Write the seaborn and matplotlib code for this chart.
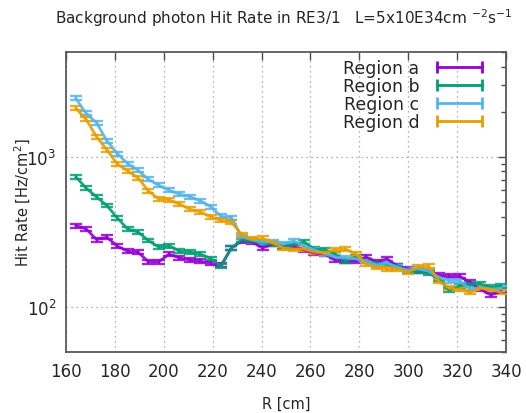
import numpy as np
import pandas as pd
import matplotlib
matplotlib.use("Agg")
import matplotlib.pyplot as plt
import seaborn as sns
from matplotlib.lines import Line2D
from matplotlib.ticker import LogLocator, NullFormatter

# ---------------- data ----------------
R_cm = [164.0, 168.2, 172.5, 176.7, 181.0, 185.2, 189.5, 193.7, 198.0, 202.2,
        206.4, 210.7, 214.9, 219.2, 223.4, 227.7, 231.9, 236.1, 240.4, 244.6,
        248.9, 253.1, 257.4, 261.6, 265.9, 270.1, 274.3, 278.6, 282.8, 287.1,
        291.3, 295.6, 299.8, 304.0, 308.3, 312.5, 316.8, 321.0, 325.3, 329.5,
        333.8, 338.0]

region_a = [348, 331, 281, 291, 254, 235, 231, 200, 200, 225, 212, 205, 202, 195,
            189, 247, 275, 271, 247, 263, 251, 251, 240, 229, 225, 205, 202, 202,
            215, 199, 209, 187, 179, 173, 171, 163, 160, 160, 146, 131, 120, 127]
region_b = [735, 620, 540, 474, 391, 331, 315, 277, 250, 256, 235, 232, 225, 210,
            186, 247, 280, 275, 267, 263, 251, 259, 271, 243, 240, 225, 202, 215,
            202, 196, 193, 187, 173, 173, 168, 153, 129, 138, 142, 142, 135, 138]
region_c = [2456, 1949, 1689, 1280, 1052, 902, 813, 708, 645, 598, 565, 542, 510,
            465, 402, 392, 293, 280, 271, 271, 263, 275, 255, 240, 225, 215, 212,
            209, 202, 190, 196, 184, 176, 179, 173, 158, 149, 149, 131, 135, 131, 133]
region_d = [2105, 1782, 1361, 1114, 895, 807, 723, 593, 522, 518, 485, 447, 430,
            398, 378, 366, 302, 282, 286, 267, 247, 243, 243, 232, 229, 240, 243,
            225, 193, 184, 179, 179, 171, 184, 187, 149, 133, 131, 125, 133, 131, 125]
rel_err = 0.03  # relative error bar half-height

labels = ["Region a", "Region b", "Region c", "Region d"]
colors = ["#9400D3", "#009E73", "#56B4E9", "#E69F00"]
title = "Background photon Hit Rate in RE3/1   L=5x10E34cm $^{-2}$s$^{-1}$"
xlabel = "R [cm]"
ylabel = "Hit Rate [Hz/cm$^2$]"
x_ticks = [160, 180, 200, 220, 240, 260, 280, 300, 320, 340]

series = [region_a, region_b, region_c, region_d]
df = pd.concat([pd.DataFrame({"R": R_cm, "rate": s, "region": lab})
                for s, lab in zip(series, labels)], ignore_index=True)

# ---------------- plot ----------------
sns.set_style("white")
plt.rcParams["font.family"] = ["DejaVu Sans"]

fig = plt.figure(figsize=(5.26, 4.14), dpi=100)
ax = fig.add_axes([66/526, 1-353/414, 440/526, 300/414])

for s, lab, c in zip(series, labels, colors):
    y = np.array(s, dtype=float)
    ax.errorbar(R_cm, y, yerr=y*rel_err, fmt="none", ecolor=c,
                elinewidth=1.5, capsize=4.5, capthick=1.7, alpha=0.85, zorder=3)

sns.lineplot(data=df, x="R", y="rate", hue="region", palette=colors,
             linewidth=2.0, legend=False, errorbar=None, ax=ax, zorder=4,
             alpha=0.9)

ax.set_yscale("log")
ax.set_xlim(160, 340)
ax.set_ylim(50, 5000)
ax.set_xticks(x_ticks)
ax.set_xticklabels([str(t) for t in x_ticks])
ax.yaxis.set_major_locator(LogLocator(base=10))
ax.yaxis.set_minor_locator(LogLocator(base=10, subs=np.arange(2, 10)))
ax.yaxis.set_minor_formatter(NullFormatter())

ax.tick_params(axis="both", which="major", direction="in", length=6, width=1,
               top=True, right=True, labelsize=12, pad=7, color="0.3")
ax.tick_params(axis="both", which="minor", direction="in", length=3.3,
               width=1, top=False, right=True, color="0.3")
ax.tick_params(axis="x", which="minor", bottom=False, top=False)

ax.grid(True, which="major", color="0.6", linestyle=(0, (1, 3)), linewidth=0.9)
for sp in ax.spines.values():
    sp.set_color("0.35")
    sp.set_linewidth(1.3)

ax.set_xlabel("")
ax.set_ylabel("")
fig.text(286/526, 1-404/414, xlabel, ha="center", va="center", fontsize=10.5)
fig.text(23/526, 1-203/414, ylabel, ha="center", va="center", fontsize=10.5,
         rotation=90)
fig.text(284/526, 1-18/414, title, ha="center", va="center", fontsize=11)

handles = [Line2D([0, 1], [0, 0], color=c, lw=2, marker="|", markersize=9,
                  markeredgewidth=2) for c in colors]
ax.legend(handles, labels, loc="upper right", markerfirst=False, frameon=False,
          numpoints=2, handlelength=3.2, handletextpad=0.7, fontsize=12.5,
          labelspacing=0.0, borderpad=0, borderaxespad=0,
          bbox_to_anchor=(0.957, 0.975))

fig.savefig("out.png", dpi=100)
